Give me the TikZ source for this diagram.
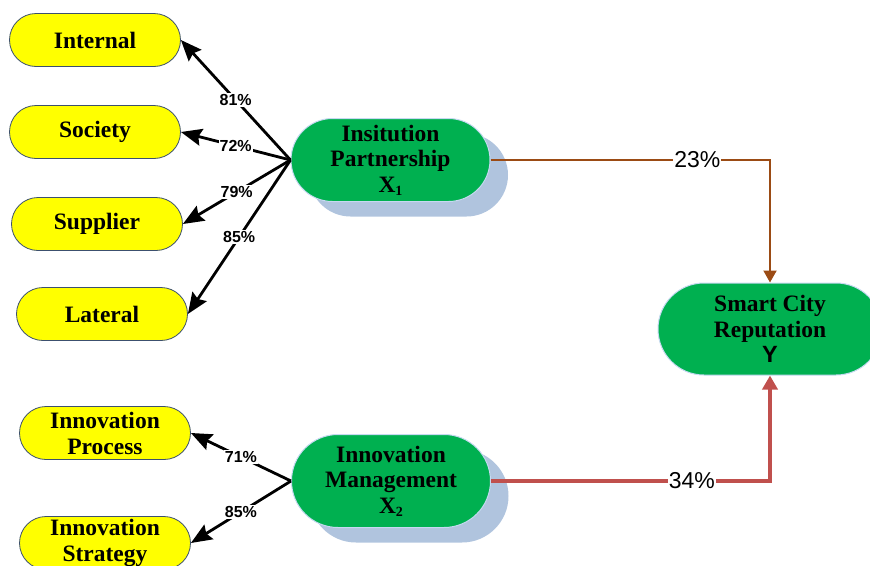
\documentclass[tikz,border=0pt]{standalone}
\usepackage{fontspec}
\setmainfont{Liberation Serif}
\newfontfamily\lsans{Liberation Sans}
\usetikzlibrary{arrows.meta,shadows,shapes.misc}
\definecolor{nodeyellow}{RGB}{255,255,0}
\definecolor{indborder}{RGB}{60,80,110}
\definecolor{latgreen}{RGB}{0,176,80}
\definecolor{latborder}{RGB}{198,217,241}
\definecolor{shadowblue}{RGB}{176,196,222}
\definecolor{pathbrown}{RGB}{155,75,20}
\definecolor{pathred}{RGB}{192,80,77}
\newcommand{\subidx}[1]{\raisebox{-0.3ex}{\fontsize{14}{14}\selectfont #1}}
\begin{document}
\begin{tikzpicture}[x=1pt,y=-1pt,
  ind/.style={rounded rectangle, draw=indborder, line width=0.8pt, fill=nodeyellow,
    minimum width=171pt, minimum height=53pt, align=center, inner sep=0pt,
    font=\fontsize{23.5}{26}\selectfont\bfseries},
  lat/.style={rounded rectangle, draw=latborder, line width=1pt, fill=latgreen, minimum width=199pt,
    align=center, inner sep=0pt, font=\fontsize{23.5}{25.5}\selectfont\bfseries},
  shad/.style={drop shadow={shadow xshift=18pt, shadow yshift=-15pt, fill=shadowblue, opacity=1}},
  blk/.style={line width=2.8pt, black, -{Stealth[length=21pt,width=17pt,inset=3pt]}},
  brn/.style={line width=2pt, pathbrown, -{Triangle[length=12pt,width=13pt]}},
  rd/.style={line width=4.5pt, pathred, -{Triangle[length=14pt,width=15pt]}},
  pct/.style={fill=white, text=black, inner sep=1pt, font=\lsans\fontsize{16}{18}\selectfont\bfseries},
  big/.style={fill=white, text=black, inner sep=1pt, font=\lsans\fontsize{23}{24}\selectfont}]
\useasboundingbox (0,0) rectangle (870,565);
\clip (0,0) rectangle (870,565);

\node[ind] (internal) at (95,40) {Internal};
\node[ind] (society) at (95,132) {Society};
\node[ind] (supplier) at (97,224) {Supplier};
\node[ind] (lateral) at (102,314) {Lateral};
\node[ind] (process) at (105,433) {Innovation\\Process};
\node[ind] (strategy) at (105,543) {Innovation\\Strategy};

\node[lat, shad, minimum height=83pt] (x1) at (390.5,160) {Insitution\\Partnership\\X\subidx{1}};
\node[lat, shad, minimum height=93pt] (x2) at (391,481) {Innovation\\Management\\X\subidx{2}};
\node[lat, minimum width=224pt, minimum height=92pt] (y) at (770,329) {Smart City\\Reputation\\{\lsans Y}};

\draw[blk] (x1.west) -- node[pct]{81\%} (internal.east);
\draw[blk] (x1.west) -- node[pct]{72\%} (society.east);
\draw[blk] (x1.west) -- node[pct]{79\%} (supplier.east);
\draw[blk] (x1.west) -- node[pct]{85\%} (lateral.east);
\draw[blk] (x2.west) -- node[pct]{71\%} (process.east);
\draw[blk] (x2.west) -- node[pct]{85\%} (strategy.east);

\draw[brn] (x1.east) -| node[big, pos=0.37]{23\%} (y.north);
\draw[rd] (x2.east) -| node[big, pos=0.36]{34\%} (y.south);
\end{tikzpicture}
\end{document}
